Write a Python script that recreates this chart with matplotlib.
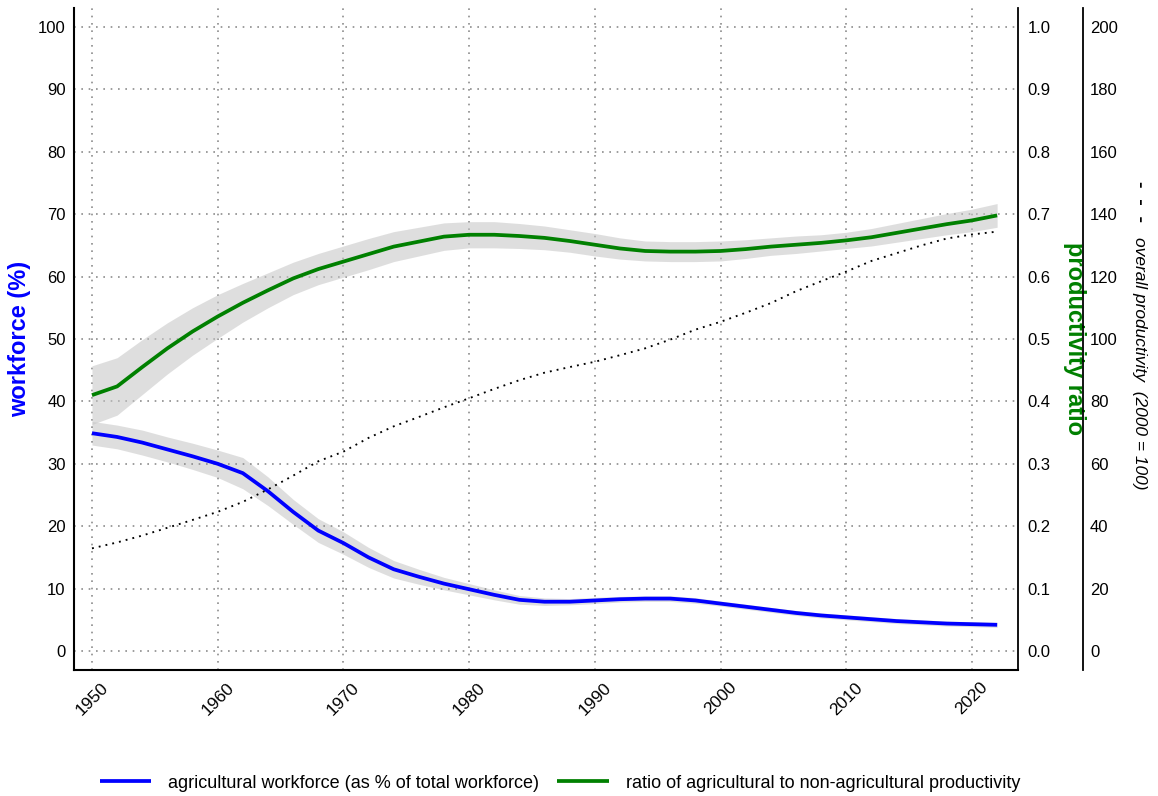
import matplotlib
matplotlib.use("Agg")
import numpy as np
import matplotlib.pyplot as plt
from matplotlib.ticker import FormatStrFormatter

plt.rcParams['font.family'] = ['Liberation Sans', 'DejaVu Sans']

years = [1950, 1952, 1954, 1956, 1958, 1960, 1962, 1964, 1966, 1968,
         1970, 1972, 1974, 1976, 1978, 1980, 1982, 1984, 1986, 1988,
         1990, 1992, 1994, 1996, 1998, 2000, 2002, 2004, 2006, 2008,
         2010, 2012, 2014, 2016, 2018, 2020, 2022]

# agricultural workforce, % of total workforce (smoothed) and band half-width
workforce = [34.9, 34.3, 33.4, 32.3, 31.2, 30.0, 28.5, 25.6, 22.3, 19.3,
             17.3, 15.0, 13.1, 11.9, 10.8, 9.9, 9.0, 8.2, 7.9, 7.9,
             8.1, 8.3, 8.4, 8.4, 8.1, 7.6, 7.1, 6.6, 6.1, 5.7,
             5.4, 5.1, 4.8, 4.6, 4.4, 4.3, 4.2]
workforce_err = [1.9, 1.9, 2.0, 2.0, 2.1, 2.2, 2.5, 2.3, 2.0, 1.9,
                 1.8, 1.6, 1.4, 1.2, 1.0, 0.9, 0.8, 0.7, 0.6, 0.5,
                 0.5, 0.45, 0.45, 0.45, 0.45, 0.4, 0.4, 0.4, 0.4, 0.4,
                 0.4, 0.4, 0.4, 0.4, 0.4, 0.4, 0.4]

# ratio of agricultural to non-agricultural productivity and band half-width
prod_ratio = [0.410, 0.424, 0.455, 0.485, 0.512, 0.536, 0.558, 0.578, 0.597, 0.612,
              0.624, 0.636, 0.648, 0.656, 0.664, 0.667, 0.667, 0.665, 0.662, 0.657,
              0.651, 0.645, 0.641, 0.640, 0.640, 0.641, 0.644, 0.648, 0.651, 0.654,
              0.658, 0.663, 0.670, 0.677, 0.684, 0.690, 0.698]
prod_ratio_err = [0.047, 0.046, 0.044, 0.041, 0.038, 0.035, 0.031, 0.028, 0.026, 0.025,
                  0.025, 0.025, 0.024, 0.023, 0.022, 0.021, 0.021, 0.020, 0.019, 0.018,
                  0.018, 0.017, 0.016, 0.016, 0.016, 0.016, 0.015, 0.014, 0.014, 0.013,
                  0.013, 0.014, 0.015, 0.016, 0.017, 0.018, 0.019]

# overall productivity index (2000 = 100)
overall_prod = [32.9, 34.8, 37.0, 39.5, 42.0, 44.6, 47.8, 51.8, 56.2, 60.8,
                63.9, 68.3, 72.0, 75.0, 78.1, 81.0, 84.0, 86.8, 89.2, 91.0,
                92.7, 94.8, 97.0, 99.8, 103.0, 105.5, 108.4, 111.5, 115.3, 118.5,
                121.6, 125.0, 127.5, 130.0, 132.2, 133.5, 134.4]

yrs = np.array(years)
wf = np.array(workforce)
wf_err = np.array(workforce_err)
pr = np.array(prod_ratio)
pr_err = np.array(prod_ratio_err)

fig = plt.figure(figsize=(11.58, 7.96), dpi=100)
ax = fig.add_axes([0.0639, 0.1583, 0.8152, 0.8317])
ax2 = ax.twinx()
ax3 = ax.twinx()

band_kw = dict(color='#c4c4c4', alpha=0.55, lw=0)
ax.fill_between(yrs, wf - wf_err, wf + wf_err, **band_kw)
l1, = ax.plot(yrs, wf, color='#0000ff', lw=2.7, solid_capstyle='butt')
ax2.fill_between(yrs, pr - pr_err, pr + pr_err, **band_kw)
l2, = ax2.plot(yrs, pr, color='#008000', lw=2.7, solid_capstyle='butt')
ax3.plot(yrs, overall_prod, color='black', lw=1.35, linestyle=(0, (1, 2.7)))

ax.set_xlim(1948.57, 2023.66)
ax.set_ylim(-3.04, 103.04)
ax2.set_ylim(-0.0304, 1.0304)
ax3.set_ylim(-6.08, 206.08)

ax.set_xticks(range(1950, 2021, 10))
ax.set_yticks(range(0, 101, 10))
ax2.set_yticks(np.arange(0, 1.01, 0.1))
ax2.yaxis.set_major_formatter(FormatStrFormatter('%.1f'))
ax3.set_yticks(range(0, 201, 20))

ax.grid(True, color='#8c8c8c', lw=1.2, linestyle=(0, (1, 3.4)))

ax.tick_params(axis='y', length=0, pad=6, labelsize=12)
ax.tick_params(axis='x', length=0, pad=7, labelsize=12.5)
for lab in ax.get_xticklabels():
    lab.set_rotation(45)
    lab.set_ha('center')
    lab.set_va('top')
ax2.tick_params(axis='y', length=0, pad=7, labelsize=12)
ax3.tick_params(axis='y', length=0, pad=5, labelsize=12)

ax.spines['top'].set_visible(False)
ax.spines['right'].set_visible(False)
ax.spines['left'].set_linewidth(1.5)
ax.spines['bottom'].set_linewidth(1.5)
for a in (ax2, ax3):
    for s in ('top', 'left', 'bottom'):
        a.spines[s].set_visible(False)
    a.spines['right'].set_linewidth(1.3)
ax3.spines['right'].set_position(('outward', 46.8))

ax.set_ylabel('workforce (%)', color='#0000ff', fontsize=17,
              fontweight='bold', labelpad=5)
ax2.set_ylabel('productivity ratio', color='#008000', fontsize=17,
               fontweight='bold', rotation=270, va='bottom', labelpad=9)

ax3.text(1.1287, 0.707, '-  -  -', transform=ax3.transAxes, rotation=270,
         ha='center', va='center', fontsize=14, fontweight='bold')
ax3.text(1.1287, 0.463, 'overall productivity  (2000 = 100)',
         transform=ax3.transAxes, rotation=270, ha='center', va='center',
         fontsize=12.5, fontstyle='italic')

fig.legend([l1, l2],
           ['agricultural workforce (as % of total workforce)',
            'ratio of agricultural to non-agricultural productivity'],
           loc='center', bbox_to_anchor=(0.4836, 0.0163), ncol=2,
           frameon=False, fontsize=13, handlelength=2.85,
           handletextpad=0.95, columnspacing=1.0)

fig.savefig('out.png', dpi=100)
